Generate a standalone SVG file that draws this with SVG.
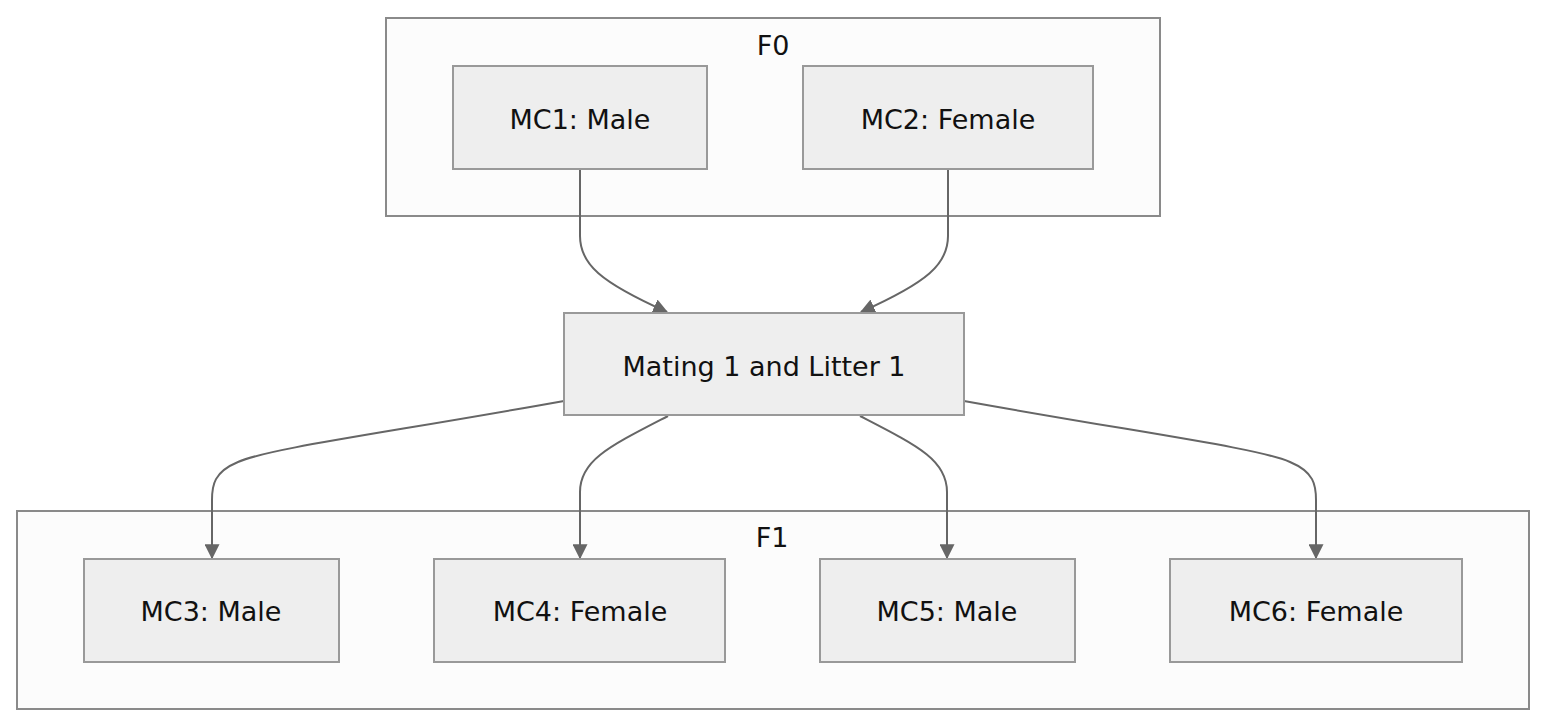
<svg xmlns="http://www.w3.org/2000/svg" width="1544" height="724" viewBox="0 0 1544 724">
<style>
.cluster{fill:#fcfcfc;stroke:#8a8a8a;stroke-width:2}
.node rect{fill:#eeeeee;stroke:#999999;stroke-width:2}
text{font-family:"DejaVu Sans","Liberation Sans",sans-serif;font-size:27px;fill:#111;text-anchor:middle;dominant-baseline:central}
.edge{fill:none;stroke:#666;stroke-width:2}
</style>
<defs>
<marker id="ah" viewBox="0 0 12 12" refX="11" refY="6" markerWidth="15" markerHeight="15" markerUnits="userSpaceOnUse" orient="auto">
<path d="M0,0 L12,6 L0,12 z" fill="#666"/>
</marker>
</defs>
<rect width="1544" height="724" fill="#ffffff"/>
<g id="F0">
<rect class="cluster" x="386" y="18" width="774" height="198"/>
<text x="773" y="45">F0</text>
</g>
<g id="F1">
<rect class="cluster" x="17" y="511" width="1512" height="198"/>
<text x="772" y="537">F1</text>
</g>
<g id="connectors">
<path class="edge" marker-end="url(#ah)" d="M580,170 V236 C580,264 600,282 667,312"/>
<path class="edge" marker-end="url(#ah)" d="M948,170 V236 C948,264 928,282 861,312"/>
<path class="edge" marker-end="url(#ah)" d="M564,401 C380,434 270,448 238,462 C214,472 212,485 212,500 V558"/>
<path class="edge" marker-end="url(#ah)" d="M668,416 C610,446 580,460 580,492 V558"/>
<path class="edge" marker-end="url(#ah)" d="M860,416 C918,446 947,460 947,492 V558"/>
<path class="edge" marker-end="url(#ah)" d="M964,401 C1148,434 1258,448 1290,462 C1314,472 1316,485 1316,500 V558"/>
</g>
<g id="MC1" class="node"><rect x="453" y="66" width="254" height="103"/><text x="580" y="119">MC1: Male</text></g>
<g id="MC2" class="node"><rect x="803" y="66" width="290" height="103"/><text x="948" y="119">MC2: Female</text></g>
<g id="M1" class="node"><rect x="564" y="313" width="400" height="102"/><text x="764" y="366">Mating 1 and Litter 1</text></g>
<g id="MC3" class="node"><rect x="84" y="559" width="255" height="103"/><text x="211" y="611">MC3: Male</text></g>
<g id="MC4" class="node"><rect x="434" y="559" width="291" height="103"/><text x="580" y="611">MC4: Female</text></g>
<g id="MC5" class="node"><rect x="820" y="559" width="255" height="103"/><text x="947" y="611">MC5: Male</text></g>
<g id="MC6" class="node"><rect x="1170" y="559" width="292" height="103"/><text x="1316" y="611">MC6: Female</text></g>
</svg>
